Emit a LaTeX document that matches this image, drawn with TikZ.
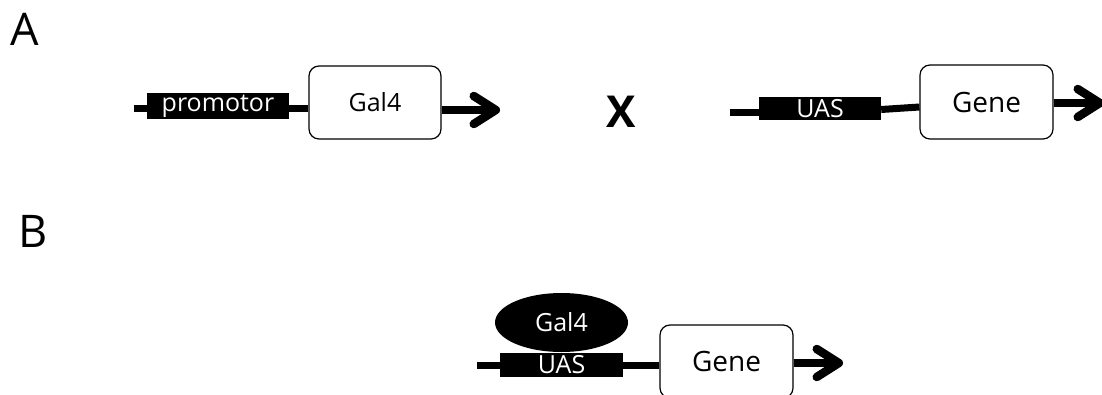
\documentclass[tikz,border=0pt]{standalone}
\usepackage{fontspec}
\setmainfont{Open Sans}
\usetikzlibrary{arrows.meta,shapes.geometric}
\tikzset{
  genebox/.style={draw, rounded corners=10pt, line width=1.2pt, minimum width=132pt,
    minimum height=73pt, inner sep=0pt, fill=white},
  blackbox/.style={fill=black, text=white, inner sep=0pt, font=\fontsize{25}{28}\selectfont},
  dna/.style={line width=7pt},
  expr/.style={line width=8.5pt, -{Straight Barb[length=22pt,width=28pt,round]}},
  panel/.style={font=\fontsize{45}{50}\selectfont, anchor=base west, inner sep=0pt},
  gtext/.style={font=\fontsize{25}{28}\selectfont},
  genetext/.style={font=\fontsize{28}{30}\selectfont},
}
\begin{document}
\begin{tikzpicture}[x=1pt,y=-1pt]
\useasboundingbox (0,0) rectangle (1102,394);
\clip (0,0) rectangle (1102,394);
% panel labels
\node[panel] (A) at (10,45) {A};
\node[panel] (B) at (18,247) {B};
% cross
\node[font=\bfseries\fontsize{44}{50}\selectfont, anchor=base, inner sep=0pt] (X) at (621.5,127) {X};
% ---- A left construct
\coordinate (pstart) at (134,108.5);
\node[blackbox, minimum width=142pt, minimum height=26pt] (prom) at (218,106) {promotor};
\node[genebox, gtext] (gal4) at (375,102.5) {Gal4};
\draw[dna] (pstart) -- (prom.west |- pstart);
\draw[dna] (prom.east |- pstart) -- (gal4.west |- pstart);
\coordinate (g4tip) at (500,110);
\draw[expr] (gal4.east |- g4tip) -- (g4tip);
% ---- A right construct
\coordinate (ustart) at (730,112);
\node[blackbox, minimum width=122pt, minimum height=23pt] (uasA) at (820,108.5) {UAS};
\node[genebox, genetext, minimum height=74pt, minimum width=133pt] (geneA) at (986.5,102) {Gene};
\draw[dna] (ustart) -- (uasA.west |- ustart);
\draw[dna] ([yshift=-1pt]uasA.east) -- ([yshift=-5pt]geneA.west);
\coordinate (gAtip) at (1104,103);
\draw[expr] (geneA.east |- gAtip) -- (gAtip);
% ---- B construct
\node[ellipse, fill=black, text=white, inner sep=0pt, minimum width=133pt, minimum height=59pt, gtext] (gal4b) at (561.5,322.5) {Gal4};
\coordinate (bstart) at (477,365);
\node[blackbox, minimum width=123pt, minimum height=24pt] (uasB) at (561.5,365) {UAS};
\node[genebox, genetext, minimum width=133pt, minimum height=73pt] (geneB) at (726.5,361.5) {Gene};
\draw[dna] (bstart) -- (uasB.west |- bstart);
\draw[dna] (uasB.east |- bstart) -- (geneB.west |- bstart);
\coordinate (gBtip) at (843,363);
\draw[expr] (geneB.east |- gBtip) -- (gBtip);
\end{tikzpicture}
\end{document}
